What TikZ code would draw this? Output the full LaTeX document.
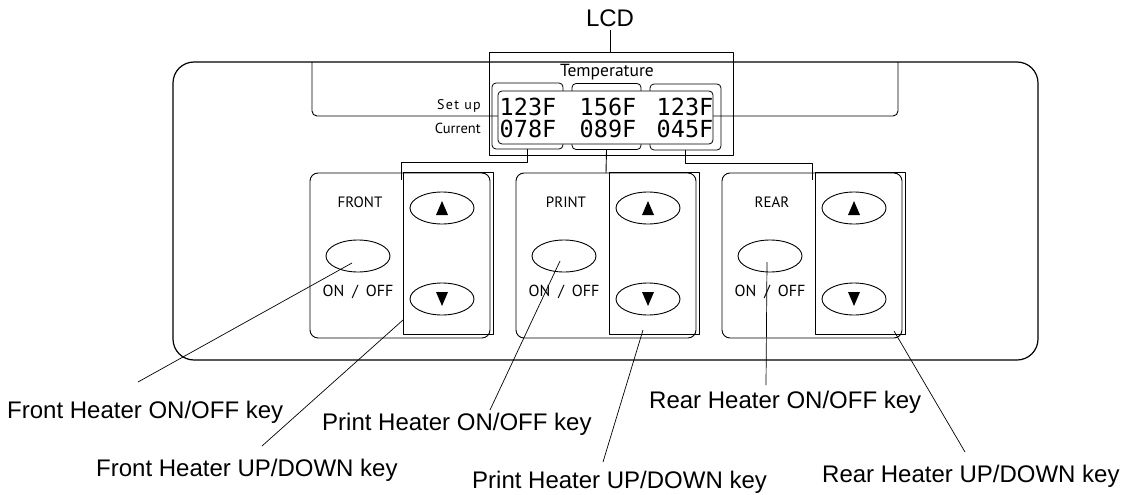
\documentclass[tikz,border=0pt]{standalone}
\usepackage{fontspec}
\setmainfont{Liberation Sans}
\newfontfamily\lblfont{PT Sans}
\newfontfamily\spacedfont[LetterSpace=10]{PT Sans}
\newfontfamily\lcdfont{DejaVu Sans Mono}
\usetikzlibrary{shapes.geometric}
\begin{document}
\begin{tikzpicture}[x=1pt,y=-1pt,line join=round]
\tikzset{
  outerpanel/.style={draw,line width=1.2pt,rounded corners=21pt},
  thinline/.style={draw,line width=0.9pt},
  calloutline/.style={draw,line width=0.7pt},
  keypanel/.style={draw,line width=0.9pt,rounded corners=8pt},
  keyframe/.style={draw,line width=0.9pt},
  keybtn/.style={draw,ellipse,line width=0.9pt,minimum width=64pt,minimum height=32pt,inner sep=0pt},
  bezel/.style={draw,line width=0.8pt,rounded corners=4pt,minimum height=66pt,inner sep=0pt},
  display/.style={draw,fill=white,line width=0.8pt,rounded corners=4pt,minimum width=215pt,minimum height=53pt,inner sep=0pt},
  digits/.style={anchor=base,inner sep=0pt,font=\lcdfont\fontsize{23.5}{24}\selectfont},
  smalllbl/.style={inner sep=0pt,font=\lblfont\fontsize{15}{16}\selectfont},
  callout/.style={anchor=base west,inner sep=0pt,font=\fontsize{24}{26}\selectfont}
}
\useasboundingbox (0,0) rectangle (1127,495);
% outer panel
\draw[outerpanel] (173,62) rectangle (1038,360);
% set-up bracket lines
\draw[thinline,rounded corners=5pt] (498,116) -- (312,116) -- (312,62);
\draw[thinline,rounded corners=5pt] (713,116) -- (898,116) -- (898,62);
% LCD frame
\draw[thinline] (489,52) rectangle (733,155);
\node[anchor=base,inner sep=0pt,font=\fontsize{24}{26}\selectfont] (lcd) at (610,27) {LCD};
\coordinate (lcdtop) at (610,52);
\draw[thinline] (lcd.south) ++(0,3) -- (lcdtop);
% bezels
\node[bezel,minimum width=71pt] (bz1) at (527.5,116) {};
\node[bezel,minimum width=69pt] (bz2) at (606.5,116.5) {};
\node[bezel,minimum width=71pt] (bz3) at (685.5,117) {};
% display
\node[display] (disp) at (605.5,117.5) {};
\node[anchor=base,inner sep=0pt,font=\lblfont\fontsize{17.5}{18}\selectfont] (temp) at (607,77) {Temperature};
\node[digits] (d11) at (528,115) {123F};
\node[digits] (d12) at (608,115) {156F};
\node[digits] (d13) at (685,115) {123F};
\node[digits] (d21) at (528,137) {078F};
\node[digits] (d22) at (608,137) {089F};
\node[digits] (d23) at (685,137) {045F};
\node[anchor=base east,inner sep=0pt,font=\spacedfont\fontsize{14}{16}\selectfont] (setup) at (481,109) {Set up};
\node[anchor=base east,inner sep=0pt,font=\lblfont\fontsize{14.5}{16}\selectfont] (current) at (481,133) {Current};
% key groups
\foreach \n/\dx/\name in {1/0/FRONT,2/206/PRINT,3/412/REAR}{
  \begin{scope}[shift={(\dx,0)}]
    \draw[keypanel] (310,173) rectangle (490,338);
    \draw[keyframe] (403,172) rectangle (493,334);
    \node[smalllbl,anchor=base] (name\n) at (360,207) {\name};
    \node[keybtn] (on\n) at (358,256) {};
    \node[smalllbl,anchor=base,font=\lblfont\fontsize{16}{18}\selectfont] (onoff\n) at (358,296) {ON\enspace/\enspace OFF};
    \node[keybtn] (up\n) at (442,208) {};
    \node[keybtn] (dn\n) at (442,299) {};
    \fill (up\n.center) ++(-6,7) -- ++(12,0) -- ++(-6,-14) -- cycle;
    \fill (dn\n.center) ++(-6,-7) -- ++(12,0) -- ++(-6,14) -- cycle;
  \end{scope}
}
% connectors from bezels to key groups
\coordinate (fk) at (401,180);
\coordinate (pk) at (606,173);
\coordinate (rk) at (812,180);
\draw[thinline] (bz1.south) -- ++(0,13) -| (fk);
\draw[thinline] (bz2.south) -- (pk);
\draw[thinline] (bz3.south) -- ++(0,13) -| (rk);
% callout labels
\node[callout] (lfon) at (7,418) {Front Heater ON/OFF key};
\node[callout] (lfud) at (96,476) {Front Heater UP/DOWN key};
\node[callout] (lpon) at (322,430) {Print Heater ON/OFF key};
\node[callout] (lpud) at (472,488) {Print Heater UP/DOWN key};
\node[callout] (lron) at (649,408) {Rear Heater ON/OFF key};
\node[callout] (lrud) at (822,482) {Rear Heater UP/DOWN key};
% callout line ends
\coordinate (s1) at (352,263); \coordinate (e1) at (138,382);
\coordinate (s2) at (403,320); \coordinate (e2) at (262,446);
\coordinate (s3) at (560,261); \coordinate (e3) at (490,410);
\coordinate (s4) at (643,330); \coordinate (e4) at (603,462);
\coordinate (s5) at (767,262); \coordinate (e5) at (766,385);
\coordinate (s6) at (894,331); \coordinate (e6) at (965,452);
\foreach \k in {1,...,6}{\draw[calloutline] (s\k) -- (e\k);}
\end{tikzpicture}
\end{document}
